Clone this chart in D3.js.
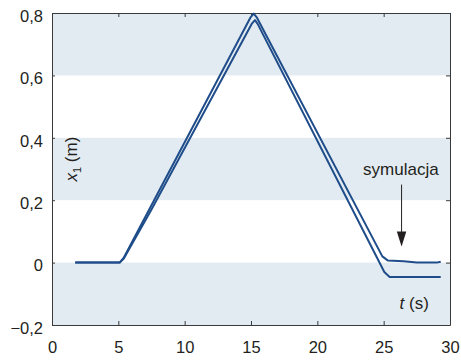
<!DOCTYPE html>
<html>
<head>
<meta charset="utf-8">
<script src="https://cdn.jsdelivr.net/npm/d3@7"></script>
<style>
  html, body { margin: 0; padding: 0; background: #fff; }
  svg { display: block; }
  text { font-family: "Liberation Sans", Arial, Helvetica, sans-serif; fill: #231f20; }
</style>
</head>
<body>
<script>
// Trace that settles near zero (pointed at by the annotation)
const timeA = [1.75, 5.1, 5.4, 14.95, 15.2, 15.45, 24.9, 25.3, 26.5, 27.5, 29.0, 29.3];
const posA  = [0, 0, 0.015, 0.785, 0.798, 0.785, 0.02, 0.007, 0.004, 0.0, 0.0, 0.003];

// Trace that settles below zero
const timeB = [1.75, 5.1, 5.4, 7.5, 15.05, 15.3, 15.5, 25.05, 25.45, 29.3];
const posB  = [0, 0, 0.012, 0.17, 0.765, 0.777, 0.765, -0.03, -0.046, -0.046];

const xTicks = [0, 5, 10, 15, 20, 25, 30];
const yTicks = [-0.2, 0, 0.2, 0.4, 0.6, 0.8];
const bands = [[0.6, 0.8], [0.2, 0.4], [-0.2, 0]];

const W = 461, H = 363;
const m = { left: 52, right: 11, top: 13, bottom: 38 };
const iw = W - m.left - m.right, ih = H - m.top - m.bottom;

const svg = d3.select("body").append("svg").attr("width", W).attr("height", H);
const g = svg.append("g").attr("transform", `translate(${m.left},${m.top})`);

const x = d3.scaleLinear().domain([0, 30]).range([0, iw]);
const y = d3.scaleLinear().domain([-0.2, 0.8]).range([ih, 0]);

// shaded bands
g.selectAll("rect.band").data(bands).join("rect")
  .attr("class", "band")
  .attr("x", 0).attr("width", iw)
  .attr("y", d => y(d[1])).attr("height", d => y(d[0]) - y(d[1]))
  .attr("fill", "#e3ebf2");

const fmt = v => (v < 0 ? "\u2212" : "") + (Math.abs(v) < 1e-9 ? "0" : d3.format(".1f")(Math.abs(v)).replace(".", ","));

// axes with inward ticks
const axisColor = "#3a3a3a";
const styleAxis = sel => {
  sel.select(".domain").attr("stroke", axisColor).attr("stroke-width", 1);
  sel.selectAll(".tick line").attr("stroke", axisColor);
  sel.selectAll("text").style("font-size", "16.5px").attr("fill", "#231f20");
};

g.append("g").attr("transform", `translate(0,${ih})`)
  .call(d3.axisBottom(x).tickValues(xTicks).tickSize(-4).tickSizeOuter(0).tickPadding(16).tickFormat(d3.format("d")))
  .call(styleAxis);
g.append("g")
  .call(d3.axisTop(x).tickValues(xTicks).tickSize(-4).tickSizeOuter(0).tickFormat(""))
  .call(styleAxis);
g.append("g")
  .call(d3.axisLeft(y).tickValues(yTicks).tickSize(-3).tickSizeOuter(0).tickPadding(9).tickFormat(fmt))
  .call(styleAxis)
  .call(s => s.selectAll("text").attr("dy", "0.5em"));
g.append("g").attr("transform", `translate(${iw},0)`)
  .call(d3.axisRight(y).tickValues(yTicks).tickSize(-4).tickSizeOuter(0).tickFormat(""))
  .call(styleAxis);

// traces
const line = d3.line().x(d => x(d[0])).y(d => y(d[1]));
const lineColor = "#1f4d8a";
[[timeB, posB], [timeA, posA]].forEach(([t, p]) => {
  g.append("path")
    .datum(t.map((v, i) => [v, p[i]]))
    .attr("fill", "none").attr("stroke", lineColor)
    .attr("stroke-width", 2).attr("stroke-linejoin", "round")
    .attr("d", line);
});

// annotation
const arrowX = 26.35;
g.append("line")
  .attr("x1", x(arrowX)).attr("x2", x(arrowX))
  .attr("y1", y(0.25)).attr("y2", y(0.085))
  .attr("stroke", "#231f20").attr("stroke-width", 1);
g.append("path")
  .attr("d", `M${x(arrowX) - 4.7},${y(0.1)} L${x(arrowX) + 4.7},${y(0.1)} L${x(arrowX)},${y(0.052)} Z`)
  .attr("fill", "#231f20");
g.append("text")
  .attr("x", x(26.3)).attr("y", y(0.282))
  .attr("text-anchor", "middle")
  .style("font-size", "17px")
  .text("symulacja");

// axis titles
g.append("text")
  .attr("x", x(26.2)).attr("y", y(-0.148))
  .style("font-size", "17px")
  .html('<tspan font-style="italic">t</tspan> (s)');

g.append("text")
  .attr("transform", `translate(${77 - m.left},${y(0.26)}) rotate(-90)`)
  .style("font-size", "17px")
  .html('<tspan font-style="italic">x</tspan><tspan font-size="11px" dy="4">1</tspan><tspan dy="-4"> (m)</tspan>');
</script>
</body>
</html>
